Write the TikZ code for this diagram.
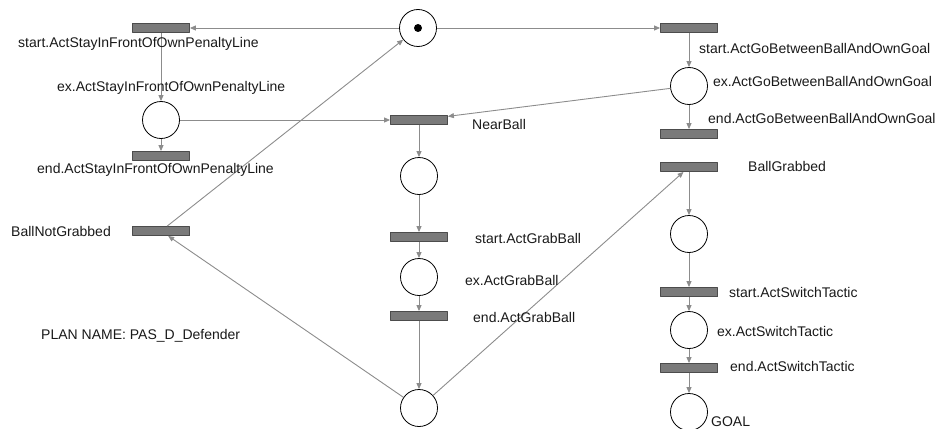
\documentclass[tikz,border=0pt]{standalone}
\usepackage{fontspec}
\setmainfont{Liberation Sans}
\usetikzlibrary{arrows.meta}

\begin{document}
\begin{tikzpicture}[x=1pt, y=-1pt, >={Triangle[length=6pt,width=5pt]},
		font=\fontsize{14}{16}\selectfont, line join=round,
		place/.style={circle, draw=black, line width=0.8pt, minimum size=37pt, inner sep=0pt},
		trans/.style={rectangle, draw=black!70, fill=black!52, line width=0.8pt, minimum width=57pt, minimum height=9pt, inner sep=0pt},
		arc/.style={->, draw=black!45, line width=0.9pt},
		lbl/.style={anchor=west, inner sep=0pt, text=black!90}]
		\useasboundingbox (0,0) rectangle (944,428);
		\clip (0,0) rectangle (944,428);
		% places
		\node[place] (init) at (418,28) {};
		\fill (init) circle (4);
		\node[place] (xStay) at (161,120) {};
		\node[place] (xGo) at (689,86) {};
		\node[place] (pNear) at (419,176) {};
		\node[place] (xGrab) at (419,277) {};
		\node[place] (pJoin) at (419,408) {};
		\node[place] (pGrab) at (689,234) {};
		\node[place] (xSwitch) at (689,330) {};
		\node[place] (goal) at (689,412) {};
		% transitions
		\node[trans] (sStay) at (161,28) {};
		\node[trans] (eStay) at (161,156) {};
		\node[trans] (sGo) at (689,28) {};
		\node[trans] (eGo) at (689,134) {};
		\node[trans] (near) at (419,120) {};
		\node[trans] (sGrab) at (419,237) {};
		\node[trans] (eGrab) at (419,316) {};
		\node[trans] (notGrab) at (161,231) {};
		\node[trans] (grabbed) at (689,167) {};
		\node[trans] (sSwitch) at (689,292) {};
		\node[trans] (eSwitch) at (689,368) {};
		% arcs
		\draw[arc] (init) -- (sStay);
		\draw[arc] (init) -- (sGo);
		\draw[arc] (sStay) -- (xStay);
		\draw[arc] (xStay) -- (eStay);
		\draw[arc] (sGo) -- (xGo);
		\draw[arc] (xGo) -- (eGo);
		\draw[arc] (xStay) -- (near);
		\draw[arc] (xGo) -- (near);
		\draw[arc] (near) -- (pNear);
		\draw[arc] (pNear) -- (sGrab);
		\draw[arc] (sGrab) -- (xGrab);
		\draw[arc] (xGrab) -- (eGrab);
		\draw[arc] (eGrab) -- (pJoin);
		\draw[arc] (pJoin) -- (notGrab);
		\draw[arc] (notGrab) -- (init);
		\draw[arc] (pJoin) -- (grabbed);
		\draw[arc] (grabbed) -- (pGrab);
		\draw[arc] (pGrab) -- (sSwitch);
		\draw[arc] (sSwitch) -- (xSwitch);
		\draw[arc] (xSwitch) -- (eSwitch);
		\draw[arc] (eSwitch) -- (goal);
		% labels
		\node[lbl] (lsStay) at (18,44) {start.ActStayInFrontOfOwnPenaltyLine};
		\node[lbl] (lxStay) at (57,88) {ex.ActStayInFrontOfOwnPenaltyLine};
		\node[lbl] (leStay) at (37,170) {end.ActStayInFrontOfOwnPenaltyLine};
		\node[lbl] (lnear) at (472,124) {NearBall};
		\node[lbl] (lsGo) at (699,48) {start.ActGoBetweenBallAndOwnGoal};
		\node[lbl] (lxGo) at (713,81) {ex.ActGoBetweenBallAndOwnGoal};
		\node[lbl] (leGo) at (708,118) {end.ActGoBetweenBallAndOwnGoal};
		\node[lbl] (lgrabbed) at (748,166) {BallGrabbed};
		\node[lbl] (lnotGrab) at (11,231) {BallNotGrabbed};
		\node[lbl] (lplan) at (41,336) {PLAN NAME: PAS\_D\_Defender};
		\node[lbl] (lsGrab) at (475,238) {start.ActGrabBall};
		\node[lbl] (lxGrab) at (465,280) {ex.ActGrabBall};
		\node[lbl] (leGrab) at (473,317) {end.ActGrabBall};
		\node[lbl] (lsSwitch) at (729,292) {start.ActSwitchTactic};
		\node[lbl] (lxSwitch) at (717,331) {ex.ActSwitchTactic};
		\node[lbl] (leSwitch) at (730,366) {end.ActSwitchTactic};
		\node[lbl] (lgoal) at (711,422) {GOAL};
	\end{tikzpicture}
\end{document}
